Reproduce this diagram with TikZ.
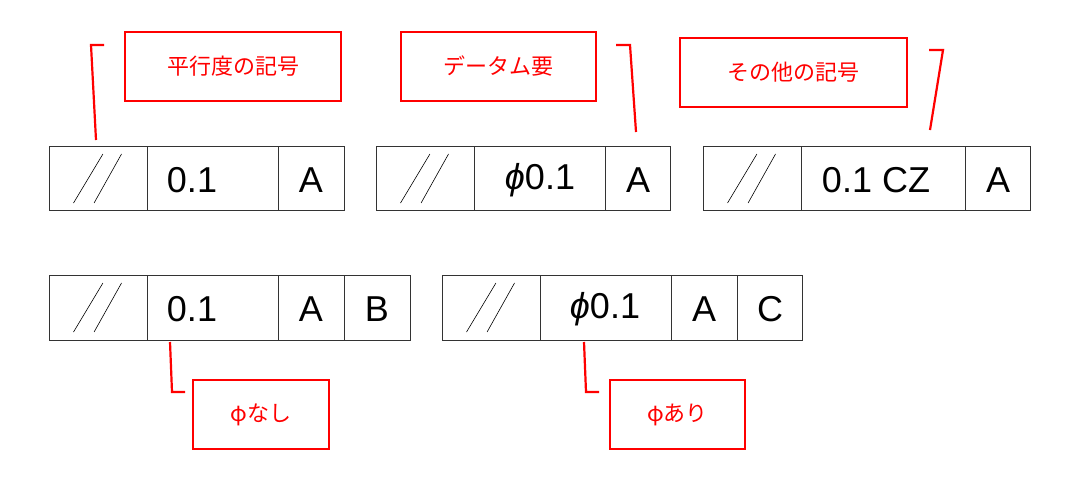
\documentclass[tikz,border=0pt]{standalone}
\usepackage{fontspec}
\setmainfont{Liberation Sans}
\newfontfamily\jp{Noto Sans CJK JP}
\begin{document}
\begin{tikzpicture}[x=1pt,y=-1pt,
  cell/.style={draw=black!80,line width=0.9pt},
  val/.style={font=\fontsize{36}{36}\selectfont,anchor=center},
  note/.style={draw=red,line width=2.2pt,minimum width=#1,minimum height=69pt,text=red,font=\jp\fontsize{22}{22}\selectfont,inner sep=0pt},
  lead/.style={draw=red,line width=2.2pt}]
\useasboundingbox (0,0) rectangle (1083,488);
% frame: \fr{x0}{y0}{list}
\newcommand\slsh[3]{% x0 x1 y0
  \draw[line width=0.6pt] ({#1+0.25*(#2-#1)},#3+57) -- ({#1+0.55*(#2-#1)},#3+8);
  \draw[line width=0.6pt] ({#1+0.46*(#2-#1)},#3+57) -- ({#1+0.74*(#2-#1)},#3+8);}
% row 1
\draw[cell] (49,146) rectangle (344,210) (147,146)--(147,210) (278,146)--(278,210);
\slsh{49}{147}{146}
\node[val] (v1) at (192,180) {0.1}; \node[val] at (311,180) {A};
\draw[cell] (376,146) rectangle (670,210) (474,146)--(474,210) (605,146)--(605,210);
\slsh{376}{474}{146}
\node[val] (v2) at (540,180) {\textit{ϕ}0.1}; \node[val] at (638,180) {A};
\draw[cell] (703,146) rectangle (1030,210) (801,146)--(801,210) (965,146)--(965,210);
\slsh{703}{801}{146}
\node[val] (v3) at (876,180) {0.1 CZ}; \node[val] at (998,180) {A};
% row 2
\draw[cell] (49,275) rectangle (410,340) (147,275)--(147,340) (278,275)--(278,340) (344,275)--(344,340);
\slsh{49}{147}{275}
\node[val] (v4) at (192,309) {0.1}; \node[val] at (311,309) {A}; \node[val] at (377,309) {B};
\draw[cell] (442,275) rectangle (802,340) (540,275)--(540,340) (671,275)--(671,340) (737,275)--(737,340);
\slsh{442}{540}{275}
\node[val] (v5) at (605,309) {\textit{ϕ}0.1}; \node[val] at (704,309) {A}; \node[val] at (770,309) {C};
% notes
\node[note=216pt] (n1) at (233,66.5) {平行度の記号};
\node[note=195pt] (n2) at (498.5,66.5) {データム要};
\node[note=227pt] (n3) at (793.5,72.5) {その他の記号};
\node[note=136pt] (n4) at (261,414.5) {φなし};
\node[note=135pt] (n5) at (677.5,414.5) {φあり};
\coordinate (a1) at (96,140); \coordinate (b1) at (91,45); \coordinate (c1) at (104,45);
\draw[lead] (a1)--(b1)--(c1);
\coordinate (a2) at (636,132); \coordinate (b2) at (630,45); \coordinate (c2) at (616,45);
\draw[lead] (a2)--(b2)--(c2);
\coordinate (a3) at (930,130); \coordinate (b3) at (943,50); \coordinate (c3) at (929,50);
\draw[lead] (a3)--(b3)--(c3);
\coordinate (a4) at (170,342); \coordinate (b4) at (172,392); \coordinate (c4) at (185,392);
\draw[lead] (a4)--(b4)--(c4);
\coordinate (a5) at (584,342); \coordinate (b5) at (586,392); \coordinate (c5) at (599,392);
\draw[lead] (a5)--(b5)--(c5);
\end{tikzpicture}
\end{document}
